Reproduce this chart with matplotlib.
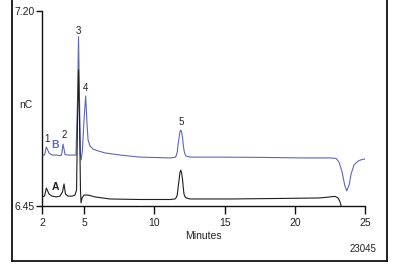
import matplotlib
matplotlib.use("Agg")
import matplotlib.pyplot as plt
from matplotlib.lines import Line2D

plt.rcParams['font.family'] = ['Liberation Sans Narrow', 'Liberation Sans', 'DejaVu Sans']

# Trace B (blue) : time (min), signal (nC)
t_b = [2.00, 2.18, 2.31, 2.50, 2.71, 3.00, 3.28, 3.39, 3.50, 3.64, 3.85, 4.14, 4.42,
       4.53, 4.60, 4.67, 4.74, 4.79, 4.88, 4.99, 5.11, 5.21, 5.28, 5.42, 5.63, 5.99,
       6.49, 7.56, 8.98, 11.12, 11.47, 11.55, 11.63, 11.70, 11.76, 11.82, 11.88, 11.94,
       12.01, 12.06, 12.11, 12.18, 12.26, 12.54, 14.68, 17.53, 20.38, 22.51, 22.94,
       23.15, 23.37, 23.55, 23.70, 23.87, 24.01, 24.22, 24.51, 24.79, 25.00]
v_b = [6.646, 6.646, 6.677, 6.654, 6.646, 6.646, 6.644, 6.646, 6.688, 6.648, 6.646, 6.646, 6.646,
       6.858, 7.101, 6.858, 6.646, 6.627, 6.665, 6.781, 6.873, 6.762, 6.704, 6.681, 6.669, 6.662,
       6.654, 6.646, 6.638, 6.635, 6.637, 6.642, 6.658, 6.690, 6.712, 6.735, 6.742, 6.735,
       6.712, 6.685, 6.665, 6.650, 6.642, 6.638, 6.638, 6.637, 6.635, 6.635, 6.633,
       6.619, 6.581, 6.531, 6.508, 6.531, 6.573, 6.608, 6.623, 6.629, 6.631]

# Trace A (black)
t_a = [2.00, 2.18, 2.31, 2.50, 2.71, 3.00, 3.28, 3.46, 3.57, 3.67, 3.85, 4.14, 4.35,
       4.46, 4.53, 4.60, 4.67, 4.74, 4.78, 4.85, 4.99, 5.28, 5.77, 6.84, 8.98, 11.12,
       11.47, 11.55, 11.63, 11.70, 11.76, 11.82, 11.88, 11.94, 12.01, 12.06, 12.11, 12.18,
       12.26, 12.54, 15.39, 18.95, 21.80, 22.51, 22.87, 23.08, 23.23, 23.30]
v_a = [6.485, 6.488, 6.519, 6.496, 6.488, 6.485, 6.488, 6.504, 6.535, 6.496, 6.488, 6.488, 6.492,
       6.512, 6.781, 6.973, 6.781, 6.512, 6.462, 6.481, 6.492, 6.492, 6.485, 6.477, 6.475, 6.475,
       6.477, 6.482, 6.492, 6.525, 6.550, 6.578, 6.588, 6.578, 6.550, 6.520, 6.496, 6.486,
       6.481, 6.477, 6.477, 6.479, 6.481, 6.485, 6.487, 6.481, 6.465, 6.450]

peak_labels = ["1", "2", "3", "4", "5"]
peak_label_t = [2.36, 3.57, 4.60, 5.13, 11.88]
peak_label_v = [6.708, 6.723, 7.123, 6.904, 6.773]

x_ticks = [2, 5, 10, 15, 20, 25]
y_ticks = [6.45, 7.20]
y_tick_labels = ["6.45", "7.20"]

W, H = 393, 270
fig = plt.figure(figsize=(W / 100, H / 100), dpi=100)
ax = fig.add_axes([42 / W, (H - 206) / H, (365 - 42) / W, (206 - 11) / H])

blue = '#5d68b2'
black = '#1e1e1e'
ax.plot(t_b, v_b, color=blue, lw=0.8)
ax.plot(t_a, v_a, color=black, lw=0.8)

for lab, tt, vv in zip(peak_labels, peak_label_t, peak_label_v):
    ax.text(tt, vv, lab, ha='center', va='center', fontsize=7, color='#222222')
ax.text(2.93, 6.685, "B", ha='center', va='center', fontsize=7.5, color=blue, fontweight='bold')
ax.text(2.93, 6.523, "A", ha='center', va='center', fontsize=7.5, color=black, fontweight='bold')

ax.set_xlim(2, 25)
ax.set_ylim(6.45, 7.20)
ax.set_xticks(x_ticks)
ax.set_yticks(y_ticks)
ax.set_yticklabels(y_tick_labels)
for s in ['top', 'right']:
    ax.spines[s].set_visible(False)
for s in ['left', 'bottom']:
    ax.spines[s].set_linewidth(1.0)
    ax.spines[s].set_color('#111111')
ax.tick_params(axis='x', direction='out', length=6, width=1.0, labelsize=7.5, pad=3, color='#111111', labelcolor='#222222')
ax.tick_params(axis='y', direction='out', length=4, width=1.0, labelsize=7.5, pad=1, color='#111111', labelcolor='#222222')
ax.set_xlabel("Minutes", fontsize=7.5, labelpad=2, color='#222222')
ax.text(-0.03, 0.52, "nC", transform=ax.transAxes, ha='right', va='center', fontsize=7.5, color='#222222')
ax.patch.set_visible(False)

fig.text(376 / W, (H - 249) / H, "23045", ha='right', va='center', fontsize=7, color='#222222')

# outer frame (top edge lies beyond the image)
fx0, fx1, fy0 = 12 / W, 387 / W, (H - 261) / H
for xs, ys in [([fx0, fx0], [fy0, 1.05]), ([fx1, fx1], [fy0, 1.05]), ([fx0, fx1], [fy0, fy0])]:
    fig.add_artist(Line2D(xs, ys, transform=fig.transFigure, color='#111111', lw=1.3))

fig.savefig("out.png", dpi=100)
